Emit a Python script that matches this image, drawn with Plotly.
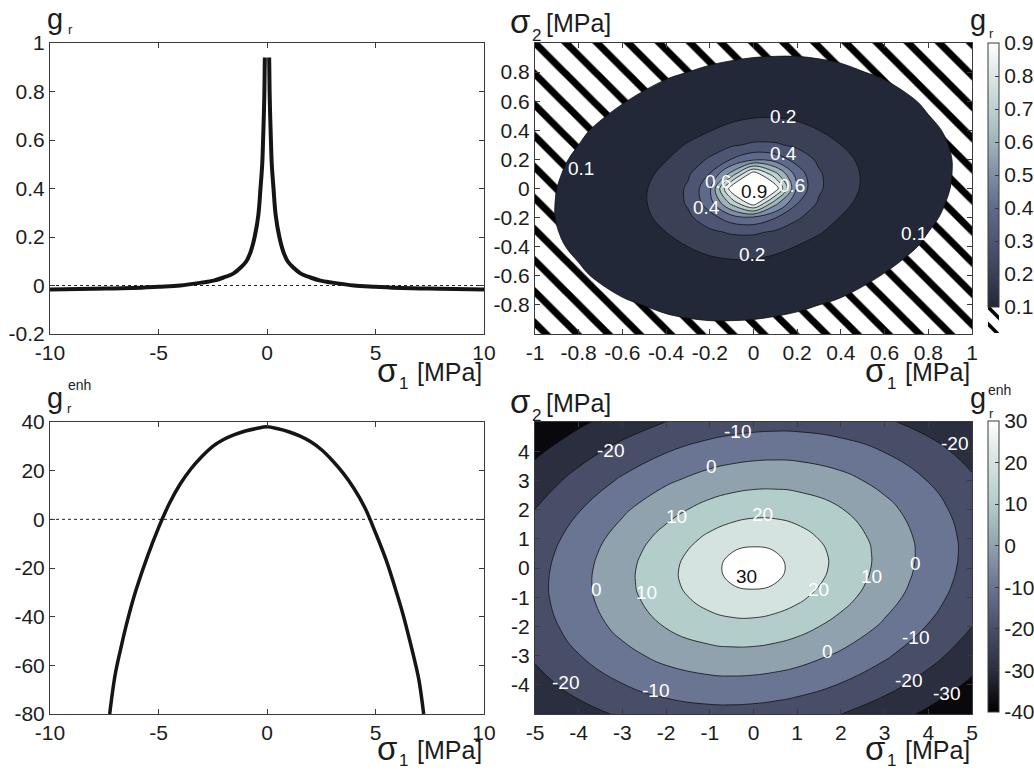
import plotly.graph_objects as go

W, H = 1034, 770
FONT = "Liberation Sans, Arial, Helvetica, sans-serif"
INK = "#1c1c1c"
AXIS = "#3a3a3a"

# ---------------- data ----------------
# g_r along sigma1, two branches either side of the singular point sigma1 = 0
sigma1_gr_neg = [-10, -8, -6.2, -5, -4, -3, -2.46, -2, -1.54, -1.2, -0.95, -0.75,
                 -0.57, -0.4, -0.3, -0.22, -0.18, -0.14, -0.12, -0.1]
gr_neg = [-0.016, -0.013, -0.01, -0.005, 0.0, 0.012, 0.02, 0.033, 0.05, 0.075, 0.1, 0.14,
          0.2, 0.29, 0.4, 0.5, 0.6, 0.72, 0.8, 0.94]
sigma1_gr_pos = [0.1, 0.12, 0.14, 0.18, 0.22, 0.3, 0.4, 0.57, 0.75, 0.95, 1.2, 1.54,
                 2, 2.46, 3, 4, 5, 6.2, 8, 10]
gr_pos = [0.94, 0.8, 0.72, 0.6, 0.5, 0.4, 0.29, 0.2, 0.14, 0.1, 0.075, 0.05,
          0.033, 0.02, 0.012, 0.0, -0.005, -0.01, -0.013, -0.016]

# g_r^enh along sigma1
sigma1_enh = [-7.25, -7.0, -6.75, -6.5, -6.25, -6.0, -5.5, -5.0, -4.5, -4.0, -3.5, -3.0,
              -2.5, -2.0, -1.5, -1.0, -0.5, 0.0, 0.5, 1.0, 1.5, 2.0, 2.5, 3.0, 3.5, 4.0,
              4.5, 5.0, 5.5, 6.0, 6.25, 6.5, 6.75, 7.0, 7.22]
g_enh = [-80, -64, -53.5, -44, -35.5, -28, -15, -3.5, 6.5, 14.5, 20.8, 25.8,
         30, 32.8, 34.8, 36.3, 37.3, 38, 37.2, 36, 34.3, 32, 28.7, 24.3, 19.1, 12.8,
         5, -5.5, -17, -31, -38.5, -47, -56, -66, -80]

# g_r on the (sigma1, sigma2) plane
sigma_grid_gr = [-1, -0.8, -0.6, -0.4, -0.3, -0.2, -0.1, 0, 0.1, 0.2, 0.3, 0.4, 0.6, 0.8, 1]
gr_field = [
    [0.065, 0.072, 0.080, 0.086, 0.088, 0.089, 0.089, 0.088, 0.086, 0.084, 0.080, 0.077, 0.069, 0.062, 0.055],
    [0.072, 0.083, 0.095, 0.106, 0.110, 0.113, 0.113, 0.112, 0.109, 0.105, 0.100, 0.094, 0.082, 0.071, 0.062],
    [0.080, 0.095, 0.114, 0.135, 0.145, 0.151, 0.154, 0.153, 0.147, 0.138, 0.128, 0.118, 0.098, 0.082, 0.069],
    [0.086, 0.106, 0.135, 0.176, 0.200, 0.222, 0.235, 0.234, 0.219, 0.197, 0.173, 0.152, 0.118, 0.094, 0.077],
    [0.088, 0.110, 0.145, 0.200, 0.238, 0.280, 0.312, 0.315, 0.286, 0.245, 0.206, 0.173, 0.128, 0.100, 0.080],
    [0.089, 0.113, 0.151, 0.222, 0.280, 0.362, 0.453, 0.478, 0.404, 0.313, 0.245, 0.197, 0.138, 0.105, 0.084],
    [0.089, 0.113, 0.154, 0.235, 0.312, 0.453, 0.733, 0.965, 0.636, 0.404, 0.286, 0.219, 0.147, 0.109, 0.086],
    [0.088, 0.112, 0.153, 0.234, 0.315, 0.478, 0.965, 1.000, 0.965, 0.478, 0.315, 0.234, 0.153, 0.112, 0.088],
    [0.086, 0.109, 0.147, 0.219, 0.286, 0.404, 0.636, 0.965, 0.733, 0.453, 0.312, 0.235, 0.154, 0.113, 0.089],
    [0.084, 0.105, 0.138, 0.197, 0.245, 0.313, 0.404, 0.478, 0.453, 0.362, 0.280, 0.222, 0.151, 0.113, 0.089],
    [0.080, 0.100, 0.128, 0.173, 0.206, 0.245, 0.286, 0.315, 0.312, 0.280, 0.238, 0.200, 0.145, 0.110, 0.088],
    [0.077, 0.094, 0.118, 0.152, 0.173, 0.197, 0.219, 0.234, 0.235, 0.222, 0.200, 0.176, 0.135, 0.106, 0.086],
    [0.069, 0.082, 0.098, 0.118, 0.128, 0.138, 0.147, 0.153, 0.154, 0.151, 0.145, 0.135, 0.114, 0.095, 0.080],
    [0.062, 0.071, 0.082, 0.094, 0.100, 0.105, 0.109, 0.112, 0.113, 0.113, 0.110, 0.106, 0.095, 0.083, 0.072],
    [0.055, 0.062, 0.069, 0.077, 0.080, 0.084, 0.086, 0.088, 0.089, 0.089, 0.088, 0.086, 0.080, 0.072, 0.065],
]
gr_levels = dict(start=0.1, end=0.9, size=0.1)

# g_r^enh on the (sigma1, sigma2) plane
sigma_grid_enh = [-5, -4, -3, -2, -1, -0.5, 0, 0.5, 1, 2, 3, 4, 5]
enh_field = [
    [-28.5, -23.6, -18.6, -15.0, -13.3, -13.2, -13.6, -14.5, -15.9, -19.9, -25.4, -31.9, -39.3],
    [-23.6, -16.4, -10.3, -5.8, -3.3, -3.0, -3.4, -4.4, -5.9, -10.5, -16.7, -23.9, -31.9],
    [-18.6, -10.3, -3.0, 2.9, 6.4, 7.0, 6.8, 5.7, 3.9, -1.5, -8.6, -16.7, -25.4],
    [-15.0, -5.8, 2.9, 10.5, 15.8, 17.0, 17.0, 15.7, 13.4, 6.7, -1.5, -10.5, -19.9],
    [-13.3, -3.3, 6.4, 15.8, 23.9, 26.6, 27.2, 25.4, 22.1, 13.4, 3.9, -5.9, -15.9],
    [-13.2, -3.0, 7.0, 17.0, 26.6, 30.4, 32.3, 30.2, 25.4, 15.7, 5.7, -4.4, -14.5],
    [-13.6, -3.4, 6.8, 17.0, 27.2, 32.3, 37.4, 32.3, 27.2, 17.0, 6.8, -3.4, -13.6],
    [-14.5, -4.4, 5.7, 15.7, 25.4, 30.2, 32.3, 30.4, 26.6, 17.0, 7.0, -3.0, -13.2],
    [-15.9, -5.9, 3.9, 13.4, 22.1, 25.4, 27.2, 26.6, 23.9, 15.8, 6.4, -3.3, -13.3],
    [-19.9, -10.5, -1.5, 6.7, 13.4, 15.7, 17.0, 17.0, 15.8, 10.5, 2.9, -5.8, -15.0],
    [-25.4, -16.7, -8.6, -1.5, 3.9, 5.7, 6.8, 7.0, 6.4, 2.9, -3.0, -10.3, -18.6],
    [-31.9, -23.9, -16.7, -10.5, -5.9, -4.4, -3.4, -3.0, -3.3, -5.8, -10.3, -16.4, -23.6],
    [-39.3, -31.9, -25.4, -19.9, -15.9, -14.5, -13.6, -13.2, -13.3, -15.0, -18.6, -23.6, -28.5],
]
enh_levels = dict(start=-30, end=30, size=10)

# contour label placements (level, sigma1, sigma2)
gr_label_level = [0.2, 0.4, 0.1, 0.6, 0.9, 0.6, 0.4, 0.1, 0.2]
gr_label_s1 = [0.134, 0.137, -0.788, -0.161, 0.0, 0.175, -0.215, 0.733, -0.008]
gr_label_s2 = [0.497, 0.241, 0.135, 0.045, -0.023, 0.022, -0.129, -0.31, -0.452]

enh_label_level = [-10, -20, -20, 0, 10, 20, 30, 0, 10, 20, 10, 0, -10, 0, -20, -30, -20, -10]
enh_label_s1 = [-0.37, -3.28, 4.6, -0.96, -1.76, 0.21, -0.16, -3.59, -2.46, 1.48, 2.7, 3.7,
                3.7, 1.69, 3.54, 4.42, -4.31, -2.25]
enh_label_s2 = [4.66, 4.02, 4.28, 3.47, 1.76, 1.84, -0.29, -0.73, -0.85, -0.73, -0.29, 0.14,
                -2.38, -2.87, -3.86, -4.3, -3.92, -4.18]

# tick values
ticks_s1_wide = [-10, -5, 0, 5, 10]
ticks_gr = [-0.2, 0, 0.2, 0.4, 0.6, 0.8, 1]
ticks_enh = [-80, -60, -40, -20, 0, 20, 40]
ticks_s_unit = [-1, -0.8, -0.6, -0.4, -0.2, 0, 0.2, 0.4, 0.6, 0.8, 1]
ticks_s2_unit = [-0.8, -0.6, -0.4, -0.2, 0, 0.2, 0.4, 0.6, 0.8]
ticks_s1_five = [-5, -4, -3, -2, -1, 0, 1, 2, 3, 4, 5]
ticks_s2_five = [-4, -3, -2, -1, 0, 1, 2, 3, 4]
cbar_gr_ticks = [0.1, 0.2, 0.3, 0.4, 0.5, 0.6, 0.7, 0.8, 0.9]
cbar_enh_ticks = [-40, -30, -20, -10, 0, 10, 20, 30]


def fmt(v):
    return "%g" % v


# ---------------- colours ----------------
gr_band_colors = ["#232838", "#3a4157", "#4d5572", "#5f6a8b", "#7f8ea6",
                  "#9fb4b9", "#bcd1cf", "#dbe7e5", "#ffffff"]
enh_band_colors = ["#08080d", "#2b2e3e", "#484e67", "#6a7493", "#8fa2ad",
                   "#b3cdcb", "#d4e2e0", "#ffffff"]

# contour fill scales: transparent below the lowest level so the hatching shows
n_gr = len(gr_band_colors)
gr_fill_scale = [[0.0, "rgba(255,255,255,0)"], [0.5 / n_gr, "rgba(255,255,255,0)"]]
gr_fill_scale += [[(i + 1) / n_gr, c] for i, c in enumerate(gr_band_colors[:-1])]
gr_fill_scale += [[1.0, gr_band_colors[-1]]]
gr_bar_scale = [[i / (n_gr - 1), c] for i, c in enumerate(gr_band_colors)]

n_enh = len(enh_band_colors)
enh_fill_scale = [[i / (n_enh - 1), c] for i, c in enumerate(enh_band_colors)]
enh_bar_scale = [[0.0, "#000000"]] + [[i / (n_enh - 1), c] for i, c in enumerate(enh_band_colors)][1:]

# ---------------- layout geometry (pixels) ----------------
XL = [50 / W, 484 / W]
XR = [535 / W, 972 / W]
YT = [1 - 334 / H, 1 - 43 / H]
YB = [1 - 714 / H, 1 - 422 / H]

tickfont = dict(family=FONT, size=21, color=INK)
ax_style = dict(showline=True, linecolor=AXIS, linewidth=1, mirror="ticks", ticks="inside",
                ticklen=5, tickcolor=AXIS, showgrid=False, zeroline=False, tickfont=tickfont,
                fixedrange=True)


def axis(domain, anchor, rng, tv, **kw):
    d = dict(ax_style)
    d.update(domain=domain, anchor=anchor, range=rng, tickmode="array", tickvals=tv,
             ticktext=[fmt(v) for v in tv])
    d.update(kw)
    return d


fig = go.Figure()

# --- top-left: g_r(sigma1)
fig.add_trace(go.Scatter(
    x=sigma1_gr_neg + [None] + sigma1_gr_pos, y=gr_neg + [None] + gr_pos,
    mode="lines", line=dict(color="#151515", width=4, shape="spline", smoothing=0.9),
    xaxis="x", yaxis="y", hoverinfo="skip", connectgaps=False))

# --- top-right: hatched base + g_r contour overlay
hatch = dict(shape="\\", fgcolor="#000000", bgcolor="#ffffff", fgopacity=1,
             size=22, solidity=0.32)
fig.add_trace(go.Scatter(
    x=[-1, 1, 1, -1, -1], y=[-1, -1, 1, 1, -1], mode="lines", fill="toself",
    fillcolor="#ffffff", fillpattern=hatch, line=dict(width=0),
    xaxis="x2", yaxis="y2", hoverinfo="skip"))
fig.add_trace(go.Contour(
    x=sigma_grid_gr, y=sigma_grid_gr, z=gr_field, xaxis="x5", yaxis="y5",
    autocontour=False, contours=dict(coloring="fill", showlabels=False, **gr_levels),
    colorscale=gr_fill_scale, line=dict(color="#111111", width=0.8, smoothing=1.0),
    showscale=False, hoverinfo="skip"))
fig.add_trace(go.Scatter(
    x=[0, 0], y=[0, 0], mode="markers", xaxis="x2", yaxis="y2", hoverinfo="skip",
    marker=dict(color=[cbar_gr_ticks[0], cbar_gr_ticks[-1]], cmin=cbar_gr_ticks[0],
                cmax=cbar_gr_ticks[-1], colorscale=gr_bar_scale, opacity=0, size=1,
                showscale=True,
                colorbar=dict(x=988 / W, xanchor="left", xpad=0, ypad=0,
                              y=1 - 43 / H, yanchor="top", len=264, lenmode="pixels",
                              thickness=11, thicknessmode="pixels",
                              outlinewidth=1, outlinecolor=AXIS,
                              tickmode="array", tickvals=cbar_gr_ticks,
                              ticktext=[fmt(v) for v in cbar_gr_ticks],
                              ticks="inside", ticklen=4, tickcolor=AXIS,
                              tickfont=tickfont))))
# hatched segment of the colour bar (values below the lowest level)
fig.add_trace(go.Scatter(
    x=[0, 1, 1, 0, 0], y=[0, 0, 1, 1, 0], mode="lines", fill="toself",
    fillcolor="#ffffff", fillpattern=dict(hatch, size=12, solidity=0.3), line=dict(width=0),
    xaxis="x6", yaxis="y6", hoverinfo="skip"))

# --- bottom-left: g_r^enh(sigma1)
fig.add_trace(go.Scatter(
    x=sigma1_enh, y=g_enh, mode="lines",
    line=dict(color="#151515", width=3.5, shape="spline", smoothing=1.0),
    xaxis="x3", yaxis="y3", hoverinfo="skip"))

# --- bottom-right: g_r^enh contour
fig.add_trace(go.Contour(
    x=sigma_grid_enh, y=sigma_grid_enh, z=enh_field, xaxis="x4", yaxis="y4",
    autocontour=False, contours=dict(coloring="fill", showlabels=False, **enh_levels),
    colorscale=enh_fill_scale, line=dict(color="#111111", width=0.8, smoothing=1.3),
    showscale=False, hoverinfo="skip"))
fig.add_trace(go.Scatter(
    x=[0, 0], y=[0, 0], mode="markers", xaxis="x4", yaxis="y4", hoverinfo="skip",
    marker=dict(color=[cbar_enh_ticks[0], cbar_enh_ticks[-1]], cmin=cbar_enh_ticks[0],
                cmax=cbar_enh_ticks[-1], colorscale=enh_bar_scale, opacity=0, size=1,
                showscale=True,
                colorbar=dict(x=988 / W, xanchor="left", xpad=0, ypad=0,
                              y=1 - 421 / H, yanchor="top", len=291, lenmode="pixels",
                              thickness=11, thicknessmode="pixels",
                              outlinewidth=1, outlinecolor=AXIS,
                              tickmode="array", tickvals=cbar_enh_ticks,
                              ticktext=[fmt(v) for v in cbar_enh_ticks],
                              ticks="inside", ticklen=4, tickcolor=AXIS,
                              tickfont=tickfont))))

# ---------------- text ----------------
ann = []


def txt(s, X, Ybase, size, xanchor="left", color=INK):
    # place a text by its baseline (pixels from the top) and left/right edge
    ann.append(dict(text=s, x=X / W, y=1 - (Ybase - 0.3465 * size) / H, xref="paper",
                    yref="paper", xanchor=xanchor, yanchor="middle", showarrow=False,
                    borderpad=0, font=dict(family=FONT, size=size, color=color)))


# sigma1 axis titles: big sigma, subscript, unit
for right, bottom in ((484, 334), (972, 334), (484, 714), (972, 714)):
    base = bottom + 47 if bottom < 500 else bottom + 45
    sub_dy = 8 if bottom < 500 else 7
    txt("σ", right - 108, base + 1, 33)
    txt("1", right - 86, base + sub_dy, 17)
    txt("[MPa]", right - 1, base, 25, xanchor="right")

# sigma2 axis titles
for dy in (0, 380):
    txt("σ", 509, 33 + dy, 33)
    txt("2", 531, 41 + dy, 17)
    txt("[MPa]", 545, 31.5 + dy, 25)

# g_r titles
txt("g", 46, 29, 29)
txt("r", 67, 34, 13)
txt("g", 46, 408, 29)
txt("r", 66, 413, 13)
txt("enh", 67, 390, 14)
txt("g", 969, 30, 29)
txt("r", 988, 38, 13)
txt("g", 969, 408, 29)
txt("r", 988, 418, 13)
txt("enh", 987, 395, 14)

# contour labels
for lv, s1, s2 in zip(gr_label_level, gr_label_s1, gr_label_s2):
    ann.append(dict(text=fmt(lv), x=s1, y=s2, xref="x2", yref="y2", showarrow=False,
                    xanchor="center", yanchor="middle",
                    font=dict(family=FONT, size=19,
                              color="#111111" if lv == max(gr_label_level) else "#ffffff")))
for lv, s1, s2 in zip(enh_label_level, enh_label_s1, enh_label_s2):
    ann.append(dict(text=fmt(lv), x=s1, y=s2, xref="x4", yref="y4", showarrow=False,
                    xanchor="center", yanchor="middle",
                    font=dict(family=FONT, size=19,
                              color="#111111" if lv == max(enh_label_level) else "#ffffff")))

# dotted zero lines
shapes = [
    dict(type="line", xref="x domain", x0=0, x1=1, yref="y", y0=0, y1=0, layer="below",
         line=dict(color="#222222", width=1, dash="dot")),
    dict(type="line", xref="x3 domain", x0=0, x1=1, yref="y3", y0=0, y1=0, layer="below",
         line=dict(color="#222222", width=1, dash="dot")),
]

fig.update_layout(
    width=W, height=H, margin=dict(l=0, r=0, t=0, b=0, autoexpand=False),
    paper_bgcolor="#ffffff", plot_bgcolor="#ffffff", showlegend=False,
    font=dict(family=FONT, color=INK),
    xaxis=axis(XL, "y", [-10, 10], ticks_s1_wide),
    yaxis=axis(YT, "x", [-0.2, 1.0], ticks_gr),
    xaxis2=axis(XR, "y2", [-1, 1], ticks_s_unit),
    yaxis2=axis(YT, "x2", [-1, 1], ticks_s2_unit),
    xaxis3=axis(XL, "y3", [-10, 10], ticks_s1_wide),
    yaxis3=axis(YB, "x3", [-80, 40], ticks_enh),
    xaxis4=axis(XR, "y4", [-5, 5], ticks_s1_five),
    yaxis4=axis(YB, "x4", [-5, 5], ticks_s2_five),
    xaxis5=dict(overlaying="x2", anchor="y5", range=[-1, 1], visible=False, fixedrange=True),
    yaxis5=dict(overlaying="y2", anchor="x5", range=[-1, 1], visible=False, fixedrange=True),
    xaxis6=dict(domain=[988 / W, 999 / W], anchor="y6", range=[0, 1], visible=False,
                fixedrange=True),
    yaxis6=dict(domain=[1 - 333 / H, 1 - 307 / H], anchor="x6", range=[0, 1], visible=False,
                fixedrange=True),
    annotations=ann, shapes=shapes,
)

fig.write_html("out.html")
